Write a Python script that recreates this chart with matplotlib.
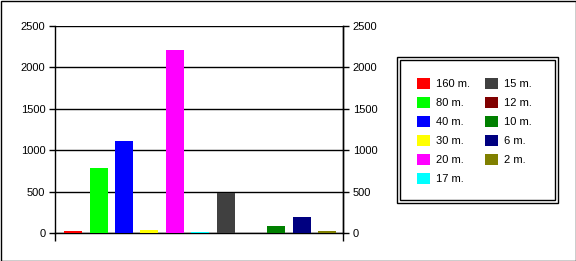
import matplotlib
matplotlib.use("Agg")
import matplotlib.pyplot as plt
from matplotlib.patches import Rectangle, Patch

labels = ["160 m.", "80 m.", "40 m.", "30 m.", "20 m.", "17 m.",
          "15 m.", "12 m.", "10 m.", "6 m.", "2 m."]
values = [30, 790, 1115, 35, 2205, 15, 478, 0, 90, 198, 30]
colors = ["#FF0000", "#00FF00", "#0000FF", "#FFFF00", "#FF00FF", "#00FFFF",
          "#404040", "#800000", "#008000", "#000080", "#808000"]
yticks = [0, 500, 1000, 1500, 2000, 2500]

plt.rcParams['font.family'] = ['Liberation Sans', 'DejaVu Sans']
plt.rcParams['font.size'] = 8

fig = plt.figure(figsize=(5.76, 2.61), dpi=100)
fig.patch.set_facecolor("white")

ax = fig.add_axes([55/576, 28/261, 288/576, 207/261])
xs = list(range(len(values)))
ax.bar(xs, values, width=0.71, color=colors, zorder=3)
ax.set_xlim(-0.72, 10.63)
ax.set_ylim(0, 2500)
ax.set_yticks(yticks)
ax.set_yticklabels([str(v) for v in yticks])
ax.yaxis.grid(True, color="black", linewidth=1, zorder=1)
ax.spines["top"].set_visible(False)
for s in ["left", "right", "bottom"]:
    ax.spines[s].set_color("black")
    ax.spines[s].set_linewidth(1)
ax.tick_params(axis="y", direction="out", length=4, width=1, pad=3,
               labelsize=8, left=True, right=False)
ax.set_xticks([-0.72, 10.63])
ax.set_xticklabels([])
ax.tick_params(axis="x", direction="out", length=6, width=1)

ax2 = ax.twinx()
ax2.set_ylim(0, 2500)
ax2.set_yticks(yticks)
ax2.set_yticklabels([str(v) for v in yticks])
ax2.tick_params(axis="y", direction="out", length=4, width=1, pad=3, labelsize=8)
for s in ["top", "left", "bottom"]:
    ax2.spines[s].set_visible(False)
ax2.spines["right"].set_linewidth(1)

# figure border
fig.patches.append(Rectangle((0.5/576, 0.5/261), 575/576, 260/261,
                             transform=fig.transFigure, fill=False,
                             edgecolor="black", linewidth=1))

# legend double frame
lx0, lx1, ly0, ly1 = 397, 558, 57, 203
fig.patches.append(Rectangle((lx0/576, 1 - ly1/261), (lx1-lx0)/576, (ly1-ly0)/261,
                             transform=fig.transFigure, fill=True, facecolor="white",
                             edgecolor="black", linewidth=1))
fig.patches.append(Rectangle(((lx0+3)/576, 1 - (ly1-3)/261), (lx1-lx0-6)/576, (ly1-ly0-6)/261,
                             transform=fig.transFigure, fill=False,
                             edgecolor="black", linewidth=1))

handles = [Patch(facecolor=c, edgecolor="none") for c in colors]
leg = fig.legend(handles, labels, ncol=2, loc="upper left",
                 bbox_to_anchor=(417/576, 1 - 77.5/261), frameon=False,
                 handlelength=1.2, handleheight=1.2, handletextpad=0.5,
                 columnspacing=1.35, labelspacing=0.68, fontsize=8,
                 borderaxespad=0, borderpad=0)

fig.savefig("out.png", dpi=100, facecolor="white")
